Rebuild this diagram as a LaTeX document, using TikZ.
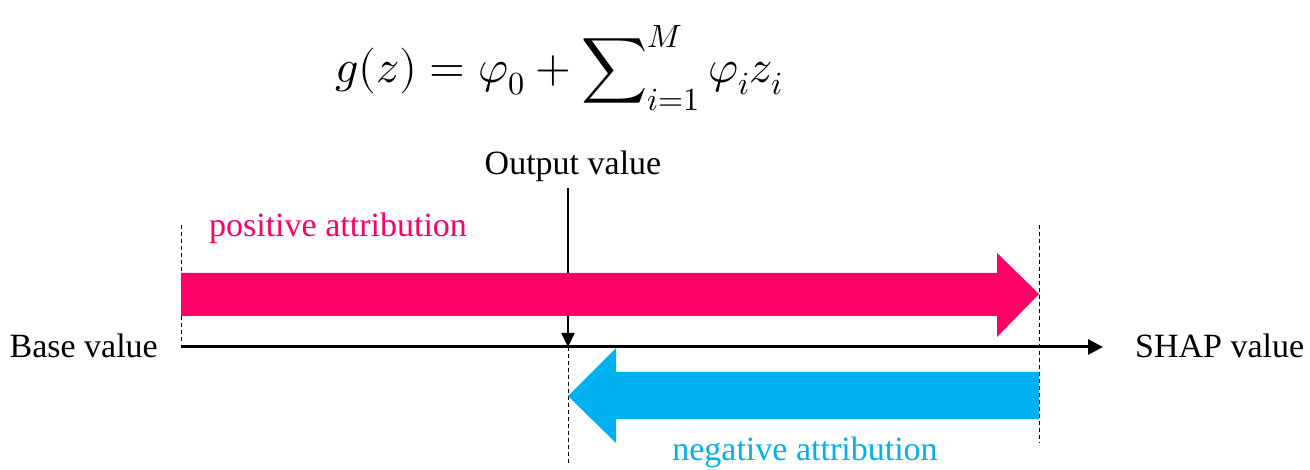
\documentclass[tikz,border=0pt]{standalone}
\usepackage{amsmath}
\usepackage{fontspec}
\usepackage{unicode-math}
\setmainfont{Liberation Serif}
\setmathfont{Latin Modern Math}
\usepackage{tikz}
\usetikzlibrary{arrows.meta,positioning}
\definecolor{posred}{RGB}{255,0,102}
\definecolor{negblue}{RGB}{0,176,240}

\begin{document}
\begin{tikzpicture}[x=1pt,y=1pt,>=Triangle,
  lbl/.style={font=\fontsize{34}{40}\selectfont,inner sep=0pt},
  guide/.style={dash pattern=on 4pt off 3pt,line width=1pt}]
\useasboundingbox (0,0) rectangle (1310,469);
% formula
\node[anchor=base,inner sep=0pt,font=\fontsize{46}{52}\selectfont](eq) at (559,386)
  {$\displaystyle g(z)=\varphi_0+\sum\nolimits_{i=1}^{M}\varphi_i z_i$};
% axis
\coordinate (b0) at (181,122); \coordinate (b1) at (1103,122);
\draw[->,line width=3pt,>={Triangle[length=15pt,width=15pt]}](b0)--(b1);
\node[lbl,anchor=base east](base) at (158,111){Base value};
\node[lbl,anchor=base west](shap) at (1135,111){SHAP value};
% output value
\node[lbl,anchor=base](out) at (573,294){Output value};
\coordinate (o1) at (568,122);
\draw[->,line width=2pt,>={Triangle[length=14pt,width=13pt]}](out.south -| o1)++(0,-6)--(o1);
% guides
\coordinate (g0) at (181,244); \coordinate (g1) at (1039,244);
\draw[guide](g0)--(181,126); \draw[guide](g1)--(1039,26); \draw[guide](o1)--(568,4);
% positive attribution
\fill[posred](181,196)--(997,196)--(997,216)--(1039,175)--(997,132)--(997,153)--(181,153)--cycle;
\node[lbl,anchor=base,text=posred](pos) at (338,232){positive attribution};
% negative attribution
\fill[negblue](1039,97)--(616,97)--(616,121)--(568,73)--(616,26)--(616,50)--(1039,50)--cycle;
\node[lbl,anchor=base,text=negblue](neg) at (805,9){negative attribution};
\end{tikzpicture}
\end{document}
